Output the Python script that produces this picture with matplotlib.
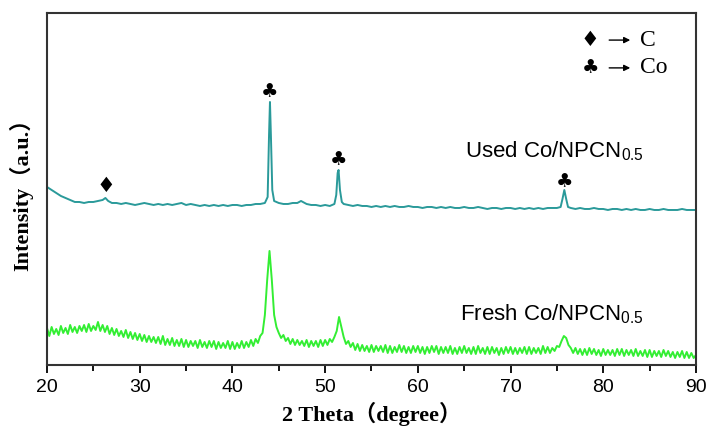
import numpy as np
import matplotlib
matplotlib.use("Agg")
from matplotlib import pyplot as plt

plt.rcParams['font.family'] = ['Liberation Sans', 'DejaVu Sans']
plt.rcParams['mathtext.fontset'] = 'custom'
plt.rcParams['mathtext.rm'] = 'Liberation Sans'

# used sample (arb. units)
used_2theta = [20, 20.5, 21, 21.5, 22, 22.5, 23, 23.5, 24, 24.5, 25, 25.5, 26, 26.3, 26.6,
               27, 27.5, 28, 28.5, 29, 29.5, 30, 30.5, 31, 31.5, 32, 32.5, 33, 33.5, 34,
               34.5, 35, 35.5, 36, 36.5, 37, 37.5, 38, 38.5, 39, 39.5, 40, 40.5, 41, 41.5,
               42, 42.5, 43, 43.5, 43.8, 43.95, 44.05, 44.15, 44.3, 44.5, 45, 45.5, 46,
               46.5, 47, 47.4, 47.8, 48, 48.5, 49, 49.5, 50, 50.5, 51, 51.2, 51.35, 51.45,
               51.6, 51.8, 52, 52.5, 53, 53.5, 54, 54.5, 55, 55.5, 56, 56.5, 57, 57.5, 58,
               58.5, 59, 59.5, 60, 60.5, 61, 61.5, 62, 62.5, 63, 63.5, 64, 64.5, 65, 65.5,
               66, 66.5, 67, 67.5, 68, 68.5, 69, 69.5, 70, 70.5, 71, 71.5, 72, 72.5, 73,
               73.5, 74, 74.5, 75, 75.4, 75.6, 75.8, 76.0, 76.2, 76.5, 77, 77.5, 78, 78.5,
               79, 79.5, 80, 80.5, 81, 81.5, 82, 82.5, 83, 83.5, 84, 84.5, 85, 85.5, 86,
               86.5, 87, 87.5, 88, 88.5, 89, 89.5, 90]
used_int = [178, 175, 172, 169, 167, 165, 163, 163, 162, 163, 163, 164, 165, 167, 164,
            162, 162, 161, 162, 161, 160, 161, 162, 161, 160, 161, 160, 161, 160, 161,
            162, 160, 161, 160, 159, 160, 159, 160, 159, 160, 159, 160, 160, 159, 160,
            160, 161, 161, 162, 168, 230, 263, 230, 175, 164, 162, 161, 161,
            162, 162, 164, 162, 161, 160, 160, 159, 160, 159, 161, 170, 192, 195,
            175, 163, 161, 160, 159, 160, 159, 159, 158, 159, 158, 159, 158, 159, 158,
            158, 159, 158, 158, 157, 158, 158, 157, 158, 157, 158, 157, 157, 158, 157,
            157, 158, 157, 156, 157, 157, 156, 157, 157, 156, 157, 156, 157, 156, 157,
            156, 157, 157, 157, 158, 166, 175, 166, 158, 157, 156, 157, 156, 156,
            157, 156, 156, 155, 156, 156, 155, 156, 155, 156, 155, 155, 156, 155, 155,
            156, 155, 155, 155, 156, 155, 155, 155]

# fresh sample, 20-90 deg every 0.25 deg
fresh_2theta = np.arange(20, 90.001, 0.25)
fresh_int = [37, 29, 38, 31, 36, 30, 39, 32, 37, 31, 40, 33, 38, 32, 39, 34,
             40, 33, 41, 34, 39, 35, 43, 34, 40, 33, 39, 31, 37, 30, 36, 29,
             34, 28, 35, 27, 33, 26, 32, 25, 31, 24, 30, 23, 29, 23, 28, 22,
             28, 21, 29, 20, 26, 20, 27, 19, 25, 19, 26, 18, 25, 18, 24, 19,
             24, 17, 25, 18, 23, 17, 24, 18, 24, 16, 23, 17, 22, 17, 24, 16,
             23, 16, 22, 17, 24, 17, 23, 18, 25, 19, 26, 22, 29, 32, 50, 85,
             114, 85, 50, 38, 32, 27, 30, 24, 27, 21, 26, 20, 25, 20, 24, 19,
             25, 18, 24, 19, 24, 18, 25, 19, 25, 20, 26, 23, 28, 34, 48, 38,
             28, 21, 24, 18, 22, 15, 21, 14, 20, 14, 19, 13, 20, 13, 19, 14,
             19, 13, 20, 12, 19, 12, 18, 13, 20, 13, 19, 12, 18, 12, 19, 13,
             19, 12, 18, 11, 18, 12, 19, 13, 19, 11, 18, 12, 18, 12, 19, 11,
             17, 11, 18, 12, 19, 12, 17, 11, 18, 11, 19, 12, 17, 11, 18, 11,
             18, 12, 17, 10, 17, 11, 18, 12, 18, 11, 17, 11, 17, 12, 18, 11,
             18, 11, 17, 12, 17, 11, 19, 12, 18, 12, 17, 14, 19, 18, 24, 29,
             27, 20, 17, 12, 17, 11, 16, 10, 16, 10, 17, 11, 16, 10, 15, 9,
             16, 10, 15, 10, 15, 9, 16, 10, 16, 9, 15, 10, 15, 9, 16, 9,
             14, 9, 15, 8, 15, 8, 14, 9, 14, 8, 15, 9, 14, 8, 13, 7,
             13, 8, 14, 7, 13, 7, 12, 7, 10]

# phase marks
c_peaks = [26.3]
co_peaks = [44.05, 51.4, 75.8]
c_mark_y = [179]
co_mark_y = [273, 205, 183]

fig = plt.figure(figsize=(7.12, 4.37), dpi=100)
ax = fig.add_axes([0.066, 0.1648, 0.9115, 0.8055])

ax.plot(fresh_2theta, fresh_int, color='#33ee33', lw=1.4)
ax.plot(used_2theta, used_int, color='#2a9a9a', lw=1.4)

for x, y in zip(c_peaks, c_mark_y):
    ax.text(x, y, '\u2666', ha='center', va='center', fontsize=15, family='DejaVu Sans')
for x, y in zip(co_peaks, co_mark_y):
    ax.text(x, y, '\u2663', ha='center', va='center', fontsize=14, family='DejaVu Sans')

ax.text(65.1, 208, 'Used Co/NPCN$_\\mathrm{0.5}$', fontsize=16, va='baseline')
ax.text(64.5, 45, 'Fresh Co/NPCN$_\\mathrm{0.5}$', fontsize=16, va='baseline')

# symbol key, top right
for sym, lab, yf, fs in [('\u2666', 'C', 0.923, 15), ('\u2663', 'Co', 0.844, 14)]:
    ax.text(0.837, yf, sym, transform=ax.transAxes, ha='center', va='center',
            fontsize=fs, family='DejaVu Sans')
    ax.annotate('', xy=(0.903, yf), xytext=(0.862, yf), xycoords='axes fraction',
                arrowprops=dict(arrowstyle='-|>', color='black', lw=1, mutation_scale=9))
    ax.text(0.913, yf, lab, transform=ax.transAxes, ha='left', va='center',
            fontsize=17, family='Liberation Serif')

ax.set_xlim(20, 90)
ax.set_ylim(0, 352)
ax.set_xticks(np.arange(20, 91, 10))
ax.set_xticks(np.arange(25, 90, 10), minor=True)
ax.set_yticks([])
ax.tick_params(axis='x', which='major', direction='out', length=6, width=1.3,
               labelsize=14, pad=4)
ax.tick_params(axis='x', which='minor', direction='out', length=4, width=1.3)
for s in ax.spines.values():
    s.set_linewidth(1.5)
    s.set_color('#333333')

ax.set_xlabel('2 Theta\uff08degree\uff09', fontsize=16, fontweight='bold',
              family=['Liberation Serif', 'Noto Sans CJK SC'], labelpad=4)
ax.set_ylabel('Intensity\uff08a.u.\uff09', fontsize=16, fontweight='bold',
              family=['Liberation Serif', 'Noto Sans CJK SC'], labelpad=10)

fig.savefig('out.png', dpi=100)
